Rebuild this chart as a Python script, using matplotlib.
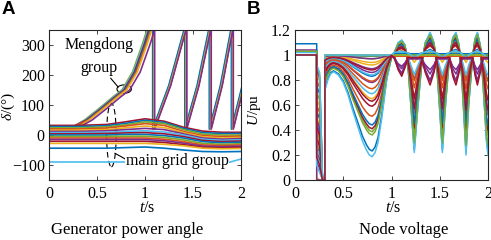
import numpy as np
import matplotlib
matplotlib.use('Agg')
import matplotlib.pyplot as plt
from matplotlib.patches import Ellipse

plt.rcParams['font.family'] = 'Liberation Serif'
plt.rcParams['mathtext.fontset'] = 'custom'
plt.rcParams['mathtext.rm'] = 'Liberation Serif'
plt.rcParams['mathtext.it'] = 'Liberation Serif:italic'

# matlab default line colours
colors = ['#0072BD', '#D95319', '#EDB120', '#7E2F8E', '#77AC30', '#4DBEEE', '#A2142F']

# ---------------- panel A: generator power angle (deg) ----------------
ta = [0, 0.3, 0.6, 0.8, 1.0, 1.2, 1.4, 1.6, 1.8, 2.0]
main_grid = [
    [32, 32, 35, 44, 54, 46, 26, 13, 9, 9],
    [28, 28, 31, 39, 49, 42, 22, 8, 5, 5],
    [24, 24, 27, 34, 44, 38, 18, 3, 0, 0],
    [20, 20, 23, 30, 38, 32, 12, -2, -5, -4],
    [16, 16, 18, 24, 30, 25, 8, -6, -10, -8],
    [12, 12, 14, 18, 22, 18, 4, -10, -14, -12],
    [8, 8, 9, 12, 14, 10, 0, -14, -18, -16],
    [4, 4, 5, 7, 8, 4, -5, -18, -22, -20],
    [0, 0, 0, 2, 2, -2, -10, -22, -26, -24],
    [-5, -5, -5, -4, -4, -8, -16, -28, -31, -29],
    [-10, -10, -10, -10, -10, -14, -22, -33, -35, -33],
    [-15, -15, -15, -15, -15, -19, -27, -37, -39, -37],
    [-21, -21, -21, -21, -21, -25, -32, -41, -43, -41],
    [-28, -28, -28, -28, -28, -31, -36, -44, -46, -45],
    [-44, -44, -44, -42, -40, -44, -50, -55, -56, -55],
    [-90, -90, -90, -90, -92, -97, -103, -105, -98, -80],
]
main_colors = [6, 0, 4, 1, 2, 3, 5, 6, 0, 4, 1, 3, 6, 2, 0, 5]

# Mengdong group: first swing, then pole slipping
md_t = [0, 0.25, 0.4, 0.55, 0.7, 0.79, 0.9, 1.0, 1.06]
md_v = [25, 25, 50, 88, 128, 150, 210, 300, 360]
md_shift = [-0.03, -0.02, -0.01, 0.0, 0.01, 0.02, 0.05]
md_start = [22, 24, 26, 20, 28, 18, 23]
md_wshift = [0.01, 0.005, 0.0, -0.005, 0.012, 0.008, 0.015]
wrap_t = [1.085, 1.42, 1.675, 1.905, 2.13]
rise_frac = [0, 0.5, 1.0]
rise_v = [20, 165, 360]

# ---------------- panel B: node voltage (pu) ----------------
t_fault = 0.225
t_clear = 0.31
fault_dt = [0.0, 0.03, 0.03]          # fault onset, slide, collapse
fault_dv = [0.0, -0.06, None]         # None -> collapses to 0

tb_dip = [0.31, 0.34, 0.37, 0.40, 0.45, 0.50, 0.55, 0.60, 0.65, 0.70, 0.74, 0.77,
          0.80, 0.83, 0.86, 0.90, 0.95, 1.00]
deep_dip = [0.72, 0.80, 0.85, 0.866, 0.84, 0.78, 0.68, 0.55, 0.43, 0.31, 0.24, 0.20,
            0.186, 0.22, 0.30, 0.50, 0.80, 0.98]
tb_osc = [1.03, 1.07, 1.106, 1.14, 1.17, 1.20, 1.236, 1.27, 1.31, 1.35, 1.40, 1.44, 1.47,
          1.50, 1.527, 1.56, 1.60, 1.635, 1.668, 1.70, 1.73, 1.772, 1.80, 1.84, 1.865,
          1.89, 1.92, 1.95, 1.985, 2.0]
deep_osc = [1.02, 1.10, 1.12, 1.08, 0.92, 0.60, 0.22, 0.55, 0.90, 1.10, 1.18, 1.10, 0.90,
            0.55, 0.22, 0.60, 0.98, 1.14, 1.18, 1.08, 0.80, 0.20, 0.60, 0.98, 1.13,
            1.18, 1.08, 0.75, 0.30, 0.20]
anti_osc = [1.0, 0.9, 0.85, 0.92, 1.0, 1.0, 1.0, 1.0, 1.0, 0.88, 0.78, 0.88, 1.0,
            1.0, 1.0, 1.0, 1.0, 0.85, 0.78, 0.88, 1.0, 1.0, 1.0, 1.0, 0.86,
            0.78, 0.88, 1.0, 1.0, 1.0]

v_pre = [1.00, 1.00, 1.00, 1.04, 1.00, 1.02, 1.00, 1.09, 1.00, 1.00, 1.00, 1.03, 1.00, 1.00,
         1.00, 1.00, 1.00, 1.00, 1.00, 1.00, 1.00, 1.00, 1.00, 1.00, 1.00, 1.00, 1.00, 1.00]
v_fault = [0.28, 0.35, 0.02, 0.00, 0.30, 0.25, 0.22, 0.45, 0.40, 0.50, 0.15, 0.38, 0.20, 0.33,
           0.55, 0.60, 0.65, 0.48, 0.70, 0.12, 0.42, 0.75, 0.80, 0.85, 0.88, 0.90, 0.92, 0.18]
v_dip = [0.232, 0.51, 0.65, 0.78, 0.386, 0.186, 0.41, 0.44, 0.73, 0.92, 0.86, 0.36, 0.69, 0.59,
         0.83, 0.79, 0.94, 0.89, 0.97, 0.84, 0.63, 0.99, 1.0, 0.995, 0.97, 0.995, 1.0, 0.88]
k_osc = [0.97, 0.6, 0.45, 0.0, 0.8, 1.0, 0.75, 0.7, 0.35, 0.1, 0.0, 0.9, 0.5, 0.55,
         0.25, 0.25, 0.05, 0.0, 0.03, 0.2, 0.45, 0.0, 0.0, 0.02, 0.0, 0.0, 0.05, 0.0]
k_anti = [0, 0, 0, 0.9, 0, 0, 0, 0, 0, 0, 0.6, 0, 0, 0,
          0, 0, 0, 0.8, 0, 0, 0, 0, 0, 0, 0.4, 0, 0, 1.0]
v_level = [1.00, 1.00, 1.00, 0.99, 1.00, 1.00, 1.00, 1.00, 1.01, 1.02, 0.98, 1.00, 1.00, 1.00,
           1.00, 0.99, 1.01, 0.97, 1.02, 1.00, 1.00, 1.01, 0.99, 1.00, 0.97, 1.00, 1.02, 0.98]

fig = plt.figure(figsize=(4.91, 2.40), dpi=100)
axA = fig.add_axes([49/491, 60/240, 192/491, 150/240])
axB = fig.add_axes([295/491, 60/240, 193/491, 150/240])

# panel A lines
for i in range(len(md_shift)):
    t = list(np.array(md_t) + md_shift[i])
    t[0] = 0
    v = list(md_v)
    v[0] = md_start[i]
    v[1] = md_start[i]
    for j in range(len(wrap_t) - 1):
        tw = wrap_t[j] + md_wshift[i]
        tn = wrap_t[j + 1] + md_wshift[i]
        t += [tw]
        v += [360]
        for f, rv in zip(rise_frac, rise_v):
            t.append(tw + f * (tn - tw))
            v.append(rv)
    axA.plot(t, v, color=colors[(i + 4) % 7], lw=1.2)

for i, row in enumerate(main_grid):
    axA.plot(ta, row, color=colors[main_colors[i]], lw=1.2)

# panel B lines
for i in range(len(v_pre)):
    kd = (1 - v_dip[i]) / (1 - min(deep_dip))
    t = [0, t_fault]
    v = [v_pre[i], v_pre[i]]
    tf = t_fault
    for dt, dv in zip(fault_dt, fault_dv):
        tf += dt
        t.append(tf)
        v.append(0.0 if dv is None else max(v_fault[i] + dv, 0))
    t += [t_clear] + tb_dip
    v += [0.0] + [1 - kd * (1 - d) for d in deep_dip]
    t += tb_osc
    v += [v_level[i] + k_osc[i] * (d - 1.0) + k_anti[i] * (a - 1.0)
          for d, a in zip(deep_osc, anti_osc)]
    axB.plot(t, v, color=colors[i % 7], lw=1.1)

# annotations in A
axA.text(0.52, 300, 'Mengdong', ha='center', va='center', fontsize=11.5)
axA.text(0.52, 222, 'group', ha='center', va='center', fontsize=11.5)
axA.add_patch(Ellipse((0.783, 153), 0.15, 28, fill=False, ec='black', lw=0.8))
axA.plot([0.643, 0.72], [189, 160], color='black', lw=0.8)
axA.add_patch(Ellipse((0.65, 0), 0.1, 212, fill=False, ec='black', lw=0.8, ls=(0, (5, 3))))
axA.plot([0.6875, 0.80], [-61, -81], color='black', lw=0.8)
axA.text(0.80, -88, 'main grid group', ha='left', va='center', fontsize=11.5,
         bbox=dict(facecolor='white', edgecolor='none', pad=0.5))

for ax in (axA, axB):
    ax.set_xlim(0, 2)
    ax.set_xticks([0, 0.5, 1, 1.5, 2])
    ax.set_xticklabels(['0', '0.5', '1', '1.5', '2'])
    ax.tick_params(direction='in', top=True, right=True, length=3, width=0.6,
                   labelsize=11.5, colors='#262626', labelcolor='black')
    ax.tick_params(axis='x', pad=4)
    ax.tick_params(axis='y', pad=3)
    for s in ax.spines.values():
        s.set_linewidth(0.8)
        s.set_color('#262626')
    ax.set_xlabel('$t$/s', fontsize=11.5)
    ax.xaxis.set_label_coords(0.51, -0.135)

axA.set_ylim(-150, 350)
axA.set_yticks([-100, 0, 100, 200, 300])
axA.set_ylabel(r'$\delta$/(°)', fontsize=11)
axA.yaxis.set_label_coords(-0.165, 0.49)

axB.set_ylim(0, 1.2)
axB.set_yticks([0, 0.2, 0.4, 0.6, 0.8, 1.0, 1.2])
axB.set_yticklabels(['0', '0.2', '0.4', '0.6', '0.8', '1', '1.2'])
axB.set_ylabel('$U$/pu', fontsize=11)
axB.yaxis.set_label_coords(-0.165, 0.47)

fig.text(0.004, 0.995, 'A', family='Liberation Sans', fontweight='bold', fontsize=13.5, va='top')
fig.text(0.503, 0.995, 'B', family='Liberation Sans', fontweight='bold', fontsize=13.5, va='top')
fig.text(127/491, 10/240, 'Generator power angle', ha='center', va='center', fontsize=12)
fig.text(404/491, 10/240, 'Node voltage', ha='center', va='center', fontsize=12)

fig.savefig('out.png', dpi=100)
